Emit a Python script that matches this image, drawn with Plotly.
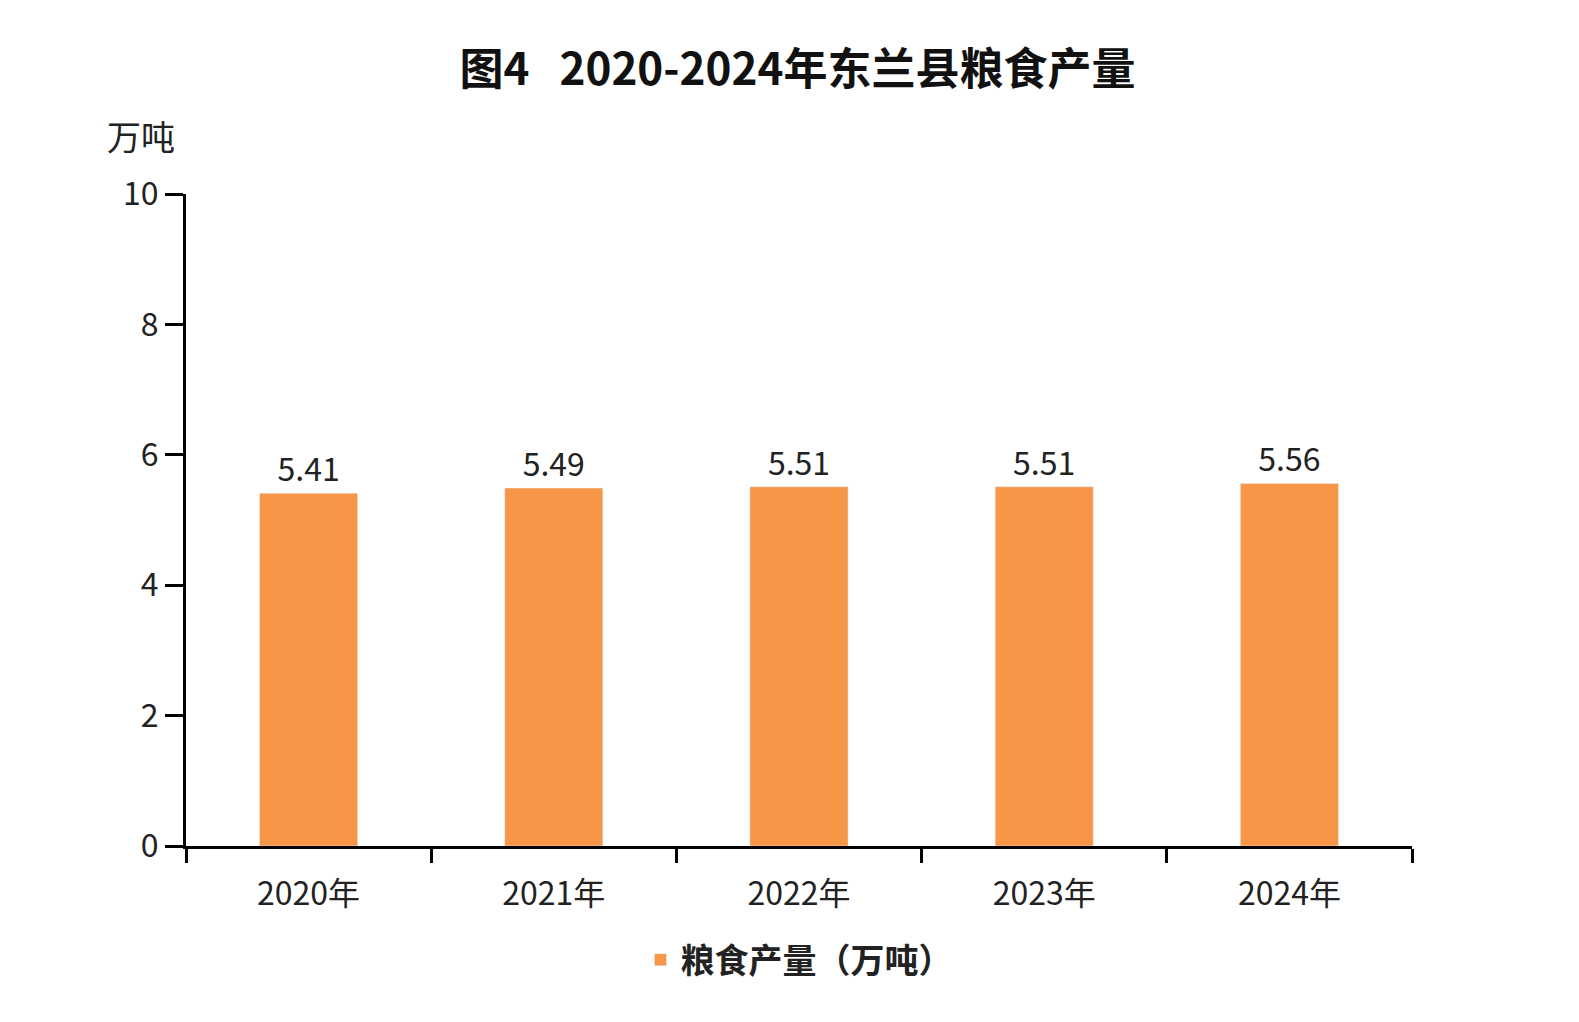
import plotly.graph_objects as go

years = ["2020年", "2021年", "2022年", "2023年", "2024年"]
output = [5.41, 5.49, 5.51, 5.51, 5.56]
labels = ["5.41", "5.49", "5.51", "5.51", "5.56"]

font = "Noto Sans CJK SC"

fig = go.Figure()
fig.add_trace(go.Bar(
    x=years, y=output, name="<b>粮食产量（万吨）</b>",
    marker_color="#F79646", width=0.4,
    text=labels, textposition="outside",
    textfont=dict(size=32, color="#222222"),
    cliponaxis=False,
))

fig.update_layout(
    width=1579, height=1022,
    paper_bgcolor="white", plot_bgcolor="white",
    margin=dict(l=178, r=175, t=186, b=184),
    font=dict(family=font, size=32, color="#222222"),
    title=dict(text="<b>图4   2020-2024年东兰县粮食产量</b>", x=0.5, xanchor="center",
               y=0.94, yanchor="middle", font=dict(size=44, color="#111111")),
    showlegend=True,
    legend=dict(orientation="h", x=0.5, xanchor="center", y=-0.175, yanchor="middle",
                font=dict(size=34), itemwidth=30),
    bargap=0.6,
)
fig.update_yaxes(range=[0, 10], dtick=2, showgrid=False, showline=True, linecolor="black",
                 linewidth=3, ticks="outside", ticklen=18, tickwidth=3, tickcolor="black",
                 zeroline=False, tickfont=dict(size=32))
fig.update_xaxes(showgrid=False, showline=True, linecolor="black", linewidth=3,
                 ticks="outside", ticklen=14, tickwidth=3, tickcolor="black",
                 tickson="boundaries", tickfont=dict(size=32), ticklabelstandoff=18)
fig.add_annotation(text="万吨", xref="paper", yref="paper", x=-0.037, y=1.09,
                   showarrow=False, font=dict(size=34), xanchor="center", yanchor="middle")

fig.write_html("out.html")
